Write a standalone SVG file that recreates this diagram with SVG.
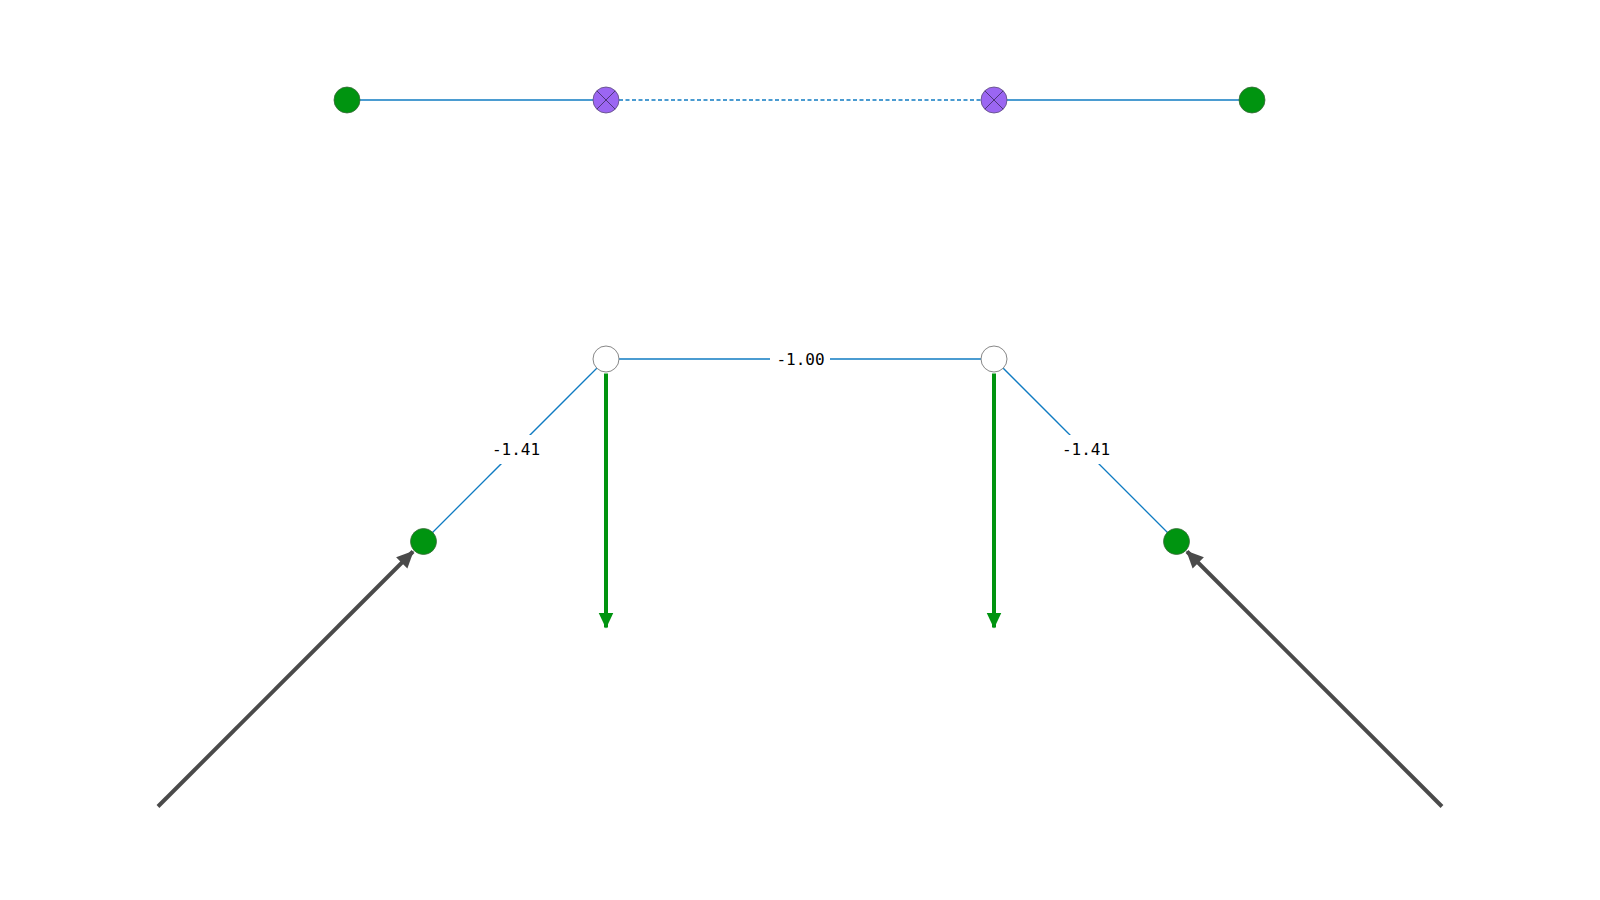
<svg xmlns="http://www.w3.org/2000/svg" width="1600" height="900" viewBox="0 0 1600 900">
<style>
.edge{stroke:#0f7bc2;stroke-width:1.3;fill:none}
.dash{stroke-dasharray:4 2.5}
.green{fill:#009410;stroke:#3a6a3a;stroke-width:0.8}
.purple{fill:#9b66f2;stroke:#5a4a7a;stroke-width:0.8}
.cross{stroke:#3a2a5a;stroke-width:0.8}
.white{fill:#fff;stroke:#888;stroke-width:1}
.lbl{font-family:"DejaVu Sans Mono",monospace;font-size:16px;fill:#000;text-anchor:middle;dominant-baseline:central}
.lblbg{fill:#fff}
.load{stroke:#009410;stroke-width:4;fill:none}
.force{stroke:#4a4a4a;stroke-width:4;fill:none}
</style>
<defs>
<marker id="ag" markerUnits="userSpaceOnUse" markerWidth="16" markerHeight="16" viewBox="0 0 16 16" refX="15" refY="8" orient="auto">
<path d="M0,0.5 L16,8 L0,15.5 Z" fill="#009410"/>
</marker>
<marker id="ak" markerUnits="userSpaceOnUse" markerWidth="17" markerHeight="17" viewBox="0 0 16 16" refX="15" refY="8" orient="auto">
<path d="M0,0.5 L16,8 L0,15.5 Z" fill="#4a4a4a"/>
</marker>
</defs>
<g id="connectors">
<line class="edge" x1="347" y1="100" x2="606" y2="100"/>
<line class="edge dash" x1="606" y1="100" x2="994" y2="100"/>
<line class="edge" x1="994" y1="100" x2="1252" y2="100"/>
<line class="edge" x1="606" y1="359" x2="994" y2="359"/>
<line class="edge" x1="606" y1="359" x2="423.5" y2="541.5"/>
<line class="edge" x1="994" y1="359" x2="1176.5" y2="541.5"/>
<g id="edge-labels">
<rect class="lblbg" x="770" y="347" width="60" height="24"/>
<text class="lbl" x="800.5" y="359">-1.00</text>
<rect class="lblbg" x="488" y="435" width="56" height="29"/>
<text class="lbl" x="516" y="449">-1.41</text>
<rect class="lblbg" x="1058" y="435" width="56" height="29"/>
<text class="lbl" x="1086" y="449">-1.41</text>
</g>
<line class="load" x1="606" y1="373.5" x2="606" y2="627.5" marker-end="url(#ag)"/>
<line class="load" x1="994" y1="373.5" x2="994" y2="627.5" marker-end="url(#ag)"/>
<line class="force" x1="158" y1="806.5" x2="413" y2="551.5" marker-end="url(#ak)"/>
<line class="force" x1="1442" y1="806.5" x2="1187" y2="551.5" marker-end="url(#ak)"/>
</g>
<g id="n1"><circle class="green" cx="347" cy="100" r="13"/></g>
<g id="n2"><circle class="purple" cx="606" cy="100" r="13"/><path class="cross" d="M596.8,90.8 L615.2,109.2 M615.2,90.8 L596.8,109.2"/></g>
<g id="n3"><circle class="purple" cx="994" cy="100" r="13"/><path class="cross" d="M984.8,90.8 L1003.2,109.2 M1003.2,90.8 L984.8,109.2"/></g>
<g id="n4"><circle class="green" cx="1252" cy="100" r="13"/></g>
<g id="n5"><circle class="white" cx="606" cy="359" r="13"/></g>
<g id="n6"><circle class="white" cx="994" cy="359" r="13"/></g>
<g id="n7"><circle class="green" cx="423.5" cy="541.5" r="13"/></g>
<g id="n8"><circle class="green" cx="1176.5" cy="541.5" r="13"/></g>
</svg>
